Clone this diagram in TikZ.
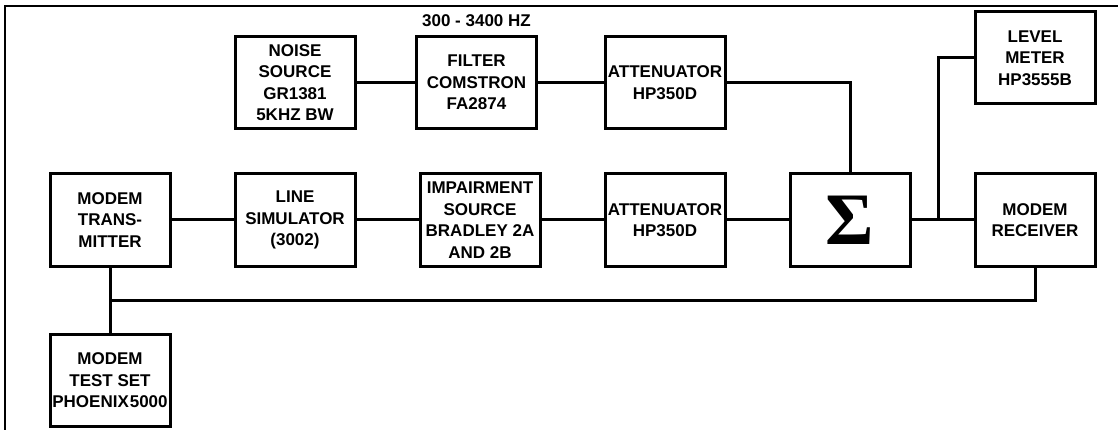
\documentclass[tikz,border=0pt]{standalone}
\usepackage{fontspec}
\setmainfont{Liberation Sans}
\newfontfamily\sigmafont{Liberation Serif}
\usetikzlibrary{positioning, calc}
\tikzstyle{unit} = [
  draw, line width=3pt, inner sep=0pt,
  minimum width=120pt, minimum height=92pt,
  align=center, font=\fontsize{17}{21.5}\selectfont\bfseries
]
\tikzstyle{wire} = [
  line width=3pt
]
\begin{document}
\begin{tikzpicture}[x=1pt, y=-1pt, node distance=62pt]

  \useasboundingbox (0,0) rectangle (1118,430);
  \draw[line width=2pt] (5,430) -- (5,6) -- (1118,6);

  % main signal chain
  \node[unit] (xmtr) at (110,220) {MODEM\\TRANS-\\MITTER};
  \node[unit, right=of xmtr]     (linesim)  {LINE\\SIMULATOR\\(3002)};
  \node[unit, right=of linesim]  (impair)   {IMPAIRMENT\\SOURCE\\BRADLEY 2A\\AND 2B};
  \node[unit, right=of impair]   (attenlow) {ATTENUATOR\\HP350D};
  \node[unit, right=of attenlow] (sum)
    {\sigmafont\bfseries\fontsize{74}{74}\selectfont Σ};
  \node[unit, right=of sum]      (rcvr)     {MODEM\\RECEIVER};

  % noise path
  \node[unit, above=42.5pt of linesim] (noise)     {NOISE\\SOURCE\\GR1381\\5KHZ BW};
  \node[unit, right=58.5pt of noise]   (filter)    {FILTER\\COMSTRON\\FA2874};
  \node[unit, above=42.5pt of attenlow] (attenhigh) {ATTENUATOR\\HP350D};
  \node[font=\fontsize{17}{20}\selectfont\bfseries, above=5pt of filter]
    (band) {300 - 3400 HZ};

  \node[unit, above=67pt of rcvr]   (meter)   {LEVEL\\METER\\HP3555B};
  \node[unit, below=65.5pt of xmtr] (testset) {MODEM\\TEST SET\\PHOENIX\hspace{1pt}5000};

  \draw[wire] (xmtr) -- (linesim) -- (impair) -- (attenlow) -- (sum) -- (rcvr);
  \draw[wire] (noise) -- (filter) -- (attenhigh);
  \draw[wire] (attenhigh) -| (sum);

  \coordinate (tap) at ($(sum.east)!0.44!(rcvr.west)$);
  \draw[wire] (tap) |- (meter);

  \coordinate (bus) at ($(xmtr.south)!0.5!(testset.north)$);
  \draw[wire] (xmtr) -- (testset);
  \draw[wire] (bus) -| (rcvr);

\end{tikzpicture}
\end{document}
